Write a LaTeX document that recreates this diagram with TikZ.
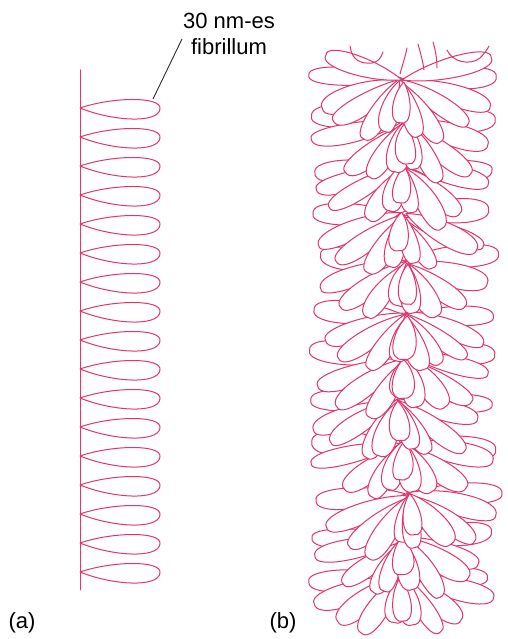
\documentclass[tikz,border=0pt]{standalone}
\usepackage{fontspec}
\setmainfont{Liberation Sans}
\definecolor{fibre}{RGB}{228,52,105}
\definecolor{leadgray}{RGB}{45,45,45}
\begin{document}
\begin{tikzpicture}[x=1pt,y=1pt,
  fibreline/.style={draw=fibre, line width=1pt, line join=round, line cap=round},
  petal/.style={fibreline, fill=white},
  leader/.style={draw=leadgray, line width=0.9pt},
  lbl/.style={font=\fontsize{22}{26}\selectfont, inner sep=0pt, align=center}]
\useasboundingbox (0,0) rectangle (507,639);

% ---------- (a) 30 nm fibre: axis with radial loops ----------
\coordinate (axtop) at (80,569);
\coordinate (axbot) at (80,49);
\draw[fibreline] (axtop) -- (axbot);
\foreach \k in {0,...,16}{
  \pgfmathsetmacro{\yb}{531-29*\k}
  \draw[fibreline] (80,\yb) .. controls (112,\yb+11) and (162,\yb+12) .. (160,\yb-1)
        .. controls (158,\yb-16) and (112,\yb-13) .. (80,\yb);
}

% label with leader line
\node[lbl, anchor=north] (fibtext) at (229,626) {30 nm-es\\fibrillum};
\coordinate (leadtop) at (182,600);
\coordinate (looptip) at (153,540);
\draw[leader] (leadtop) -- (looptip);

% ---------- (b) condensed fibre: stacked rosettes of loops ----------
\pgfmathsetseed{11}
\foreach \nx/\ny in {400/62, 402/100, 408/144, 402/196, 398/239, 406/282,
                     406/324, 405/376, 403/424, 404/474, 405/517, 402/559}{
  \foreach \a in {180,0,196,344,214,326,236,304,256,284,270}{
    \pgfmathsetmacro{\ang}{\a+5*rand}
    \pgfmathsetmacro{\c}{abs(cos(\ang))}
    \pgfmathsetmacro{\L}{38+52*\c+6*rand}
    \pgfmathsetmacro{\Wu}{14+3*rand}
    \pgfmathsetmacro{\Wl}{14+3*rand}
    \pgfmathsetmacro{\tw}{3*rand}
    \pgfmathsetmacro{\dx}{3*rand}
    \pgfmathsetmacro{\dy}{3*rand}
    \draw[petal, shift={(\nx+\dx,\ny+\dy)}, rotate=\ang]
      (0,0) .. controls (0.4*\L,\Wu) and (\L+3,\Wu+\tw) .. (\L,\tw)
      .. controls (\L+3,-\Wl+\tw) and (0.4*\L,-\Wl) .. (0,0);
  }
}
% upper end of the fibre
\coordinate (topnode) at (402,559);
\draw[petal, shift={(topnode)}, rotate=162]
  (0,0) .. controls (32,13) and (84,13) .. (80,0) .. controls (84,-13) and (32,-13) .. (0,0);
\draw[petal, shift={(topnode)}, rotate=14]
  (0,0) .. controls (36,14) and (96,14) .. (92,0) .. controls (96,-14) and (36,-14) .. (0,0);
\draw[fibreline] (350,593) .. controls (352,579) and (360,575) .. (372,576)
                 .. controls (378,577) and (381,581) .. (383,587);
\draw[fibreline] (407,591) .. controls (405,581) and (402,573) .. (400,565);
\draw[fibreline] (418,595) .. controls (421,584) and (423,577) .. (424,569);
\draw[fibreline] (433,597) .. controls (436,587) and (437,579) .. (437,571);
\draw[fibreline] (447,589) .. controls (452,577) and (470,573) .. (480,581)
                 .. controls (484,585) and (487,589) .. (489,593);

% panel labels
\node[lbl, anchor=base] (laba) at (22,10) {(a)};
\node[lbl, anchor=base] (labb) at (283,10) {(b)};
\end{tikzpicture}
\end{document}
